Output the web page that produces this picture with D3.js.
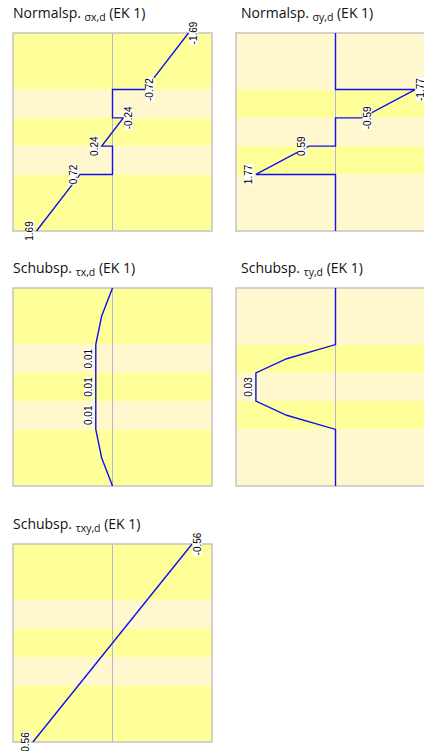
<!DOCTYPE html>
<html>
<head>
<meta charset="utf-8">
<script src="https://cdn.jsdelivr.net/npm/d3@7"></script>
<style>
  html, body { margin: 0; padding: 0; background: #fff; overflow: hidden; }
  svg { display: block; }
</style>
</head>
<body>
<svg id="chart" width="424" height="751"></svg>
<script>
// ---------------- DATA ----------------
// layer thicknesses (mm), top to bottom
const layerThickness = [40, 20, 20, 20, 40];
// panel titles
const titleMain = ["Normalsp.", "Normalsp.", "Schubsp.", "Schubsp.", "Schubsp."];
const titleSym  = ["σx,d", "σy,d", "τx,d", "τy,d", "τxy,d"];
const titleTail = "(EK 1)";
// stress profiles: [depth mm, value]
const sigmaX = [[0,-1.69],[40,-0.72],[40,0],[60,0],[60,-0.24],[80,0.24],[80,0],[100,0],[100,0.72],[140,1.69]];
const sigmaY = [[0,0],[40,0],[40,-1.77],[60,-0.59],[60,0],[80,0],[80,0.59],[100,1.77],[100,0],[140,0]];
const tauX   = [[0,0],[20,0.0041],[40,0.0063],[100,0.0063],[120,0.0041],[140,0]];
const tauY   = [[0,0],[40,0],[50,0.0184],[60,0.0300],[80,0.0300],[90,0.0184],[100,0],[140,0]];
const tauXY  = [[0,-0.56],[140,0.56]];
// value labels: [depth mm, value]
const sigmaXLabels = [[0,-1.69],[40,-0.72],[60,-0.24],[80,0.24],[100,0.72],[140,1.69]];
const sigmaYLabels = [[40,-1.77],[60,-0.59],[80,0.59],[100,1.77]];
const tauXLabels   = [[50,0.0063],[70,0.0063],[90,0.0063]];
const tauYLabels   = [[70,0.0300]];
const tauXYLabels  = [[0,-0.56],[140,0.56]];

// ---------------- LAYOUT ----------------
const panelW = 199, panelH = 198;
const origins = [[13,33],[236,33],[13,288],[236,288],[13,544]];
const titleX  = [13, 241, 13, 241, 13];
const yellow = "#FFFF99", light = "#FFF8CF";

const profiles = [sigmaX, sigmaY, tauX, tauY, tauXY];
const labels   = [sigmaXLabels, sigmaYLabels, tauXLabels, tauYLabels, tauXYLabels];
const maxAbs = arrs => d3.max(arrs.flat(), d => Math.abs(d[1]));
const groupMax = [
  maxAbs([sigmaX, sigmaY]), maxAbs([sigmaX, sigmaY]),
  maxAbs([tauX, tauY]), maxAbs([tauX, tauY]),
  maxAbs([tauXY])
];
// panels 1,3,5 : longitudinal layers yellow; panels 2,4 inverted
const invert = [false, true, false, true, false];

const svg = d3.select("#chart");
const total = d3.sum(layerThickness);
const bounds = d3.cumsum([0, ...layerThickness]);

profiles.forEach((prof, i) => {
  const [ox, oy] = origins[i];
  const g = svg.append("g");
  const y = d3.scaleLinear().domain([0, total]).range([oy, oy + panelH]);
  const D = groupMax[i] / 0.8;
  const x = d3.scaleLinear().domain([-D, D]).range([ox + panelW, ox]);

  // layer bands
  g.selectAll("rect.band").data(layerThickness).enter().append("rect")
    .attr("x", ox).attr("width", panelW)
    .attr("y", (d, k) => y(bounds[k]))
    .attr("height", (d, k) => y(bounds[k + 1]) - y(bounds[k]))
    .attr("fill", (d, k) => ((k % 2 === 0) !== invert[i]) ? yellow : light);

  // zero axis
  g.append("line")
    .attr("x1", x(0)).attr("x2", x(0))
    .attr("y1", oy).attr("y2", oy + panelH)
    .attr("stroke", "#B2B8D4").attr("stroke-width", 1);

  // frame
  g.append("rect")
    .attr("x", ox).attr("y", oy).attr("width", panelW).attr("height", panelH)
    .attr("fill", "none").attr("stroke", "#C4C4C4").attr("stroke-width", 1.5);

  // profile
  const line = d3.line().x(d => x(d[1])).y(d => y(d[0]));
  g.append("path").datum(prof)
    .attr("d", line)
    .attr("fill", "none").attr("stroke", "#1010F0").attr("stroke-width", 1.4)
    .attr("stroke-linejoin", "miter");

  // value labels
  labels[i].forEach(([z, v]) => {
    const px = x(v), py = y(z);
    const tx = v >= 0 ? px - 3.5 : px + 8.5;
    const lg = g.append("g").attr("transform", `translate(${tx},${py}) rotate(-90)`);
    const t = lg.append("text")
      .attr("text-anchor", "middle")
      .attr("font-family", "Liberation Sans, Arial, sans-serif")
      .attr("font-size", 10)
      .attr("fill", "#000")
      .text(v.toFixed(2));
    const w = t.node().getComputedTextLength();
    lg.insert("rect", "text")
      .attr("x", -w / 2 - 0.5).attr("width", w + 1)
      .attr("y", -8).attr("height", 9)
      .attr("fill", "#fff");
  });

  // title
  const tt = svg.append("text")
    .attr("x", titleX[i]).attr("y", oy - 15)
    .attr("font-family", "Open Sans, Noto Sans, sans-serif")
    .attr("font-size", 14)
    .attr("fill", "#111");
  tt.append("tspan").text(titleMain[i] + " ");
  tt.append("tspan").attr("font-size", 10.5).attr("dy", 2.5).text(titleSym[i]);
  tt.append("tspan").attr("dy", -2.5).text(" " + titleTail);
});
</script>
</body>
</html>
